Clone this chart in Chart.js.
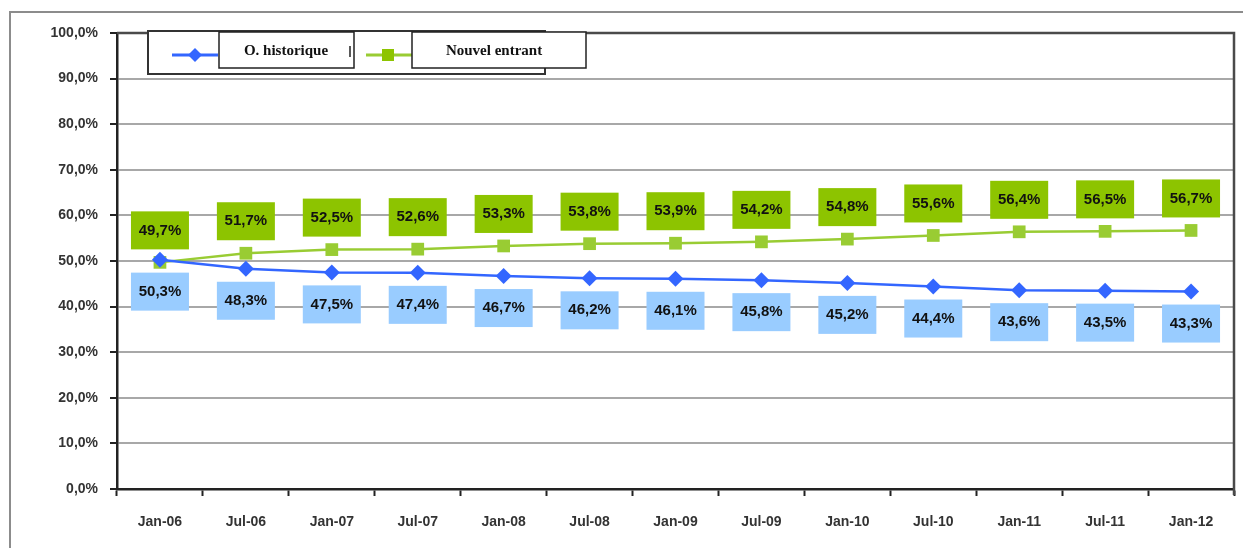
<!DOCTYPE html>
<html>
<head>
<meta charset="utf-8">
<script src="https://cdn.jsdelivr.net/npm/chart.js@4"></script>
<style>
  body { margin: 0; background: #fff; }
  canvas { display: block; }
</style>
</head>
<body>
<canvas id="myChart" width="1243" height="548"></canvas>
<script>
var months = ['Jan-06', 'Jul-06', 'Jan-07', 'Jul-07', 'Jan-08', 'Jul-08', 'Jan-09',
              'Jul-09', 'Jan-10', 'Jul-10', 'Jan-11', 'Jul-11', 'Jan-12'];
var historique = [50.3, 48.3, 47.5, 47.4, 46.7, 46.2, 46.1, 45.8, 45.2, 44.4, 43.6, 43.5, 43.3];
var nouvel = [49.7, 51.7, 52.5, 52.6, 53.3, 53.8, 53.9, 54.2, 54.8, 55.6, 56.4, 56.5, 56.7];
var seriesNames = ['O. historique', 'Nouvel entrant'];

var blue = '#3366ff';
var green = '#99cc33';

function pct(v) {
  return v.toFixed(1).replace('.', ',') + '%';
}

// outer frame, plot border, value boxes and legend
var decor = {
  id: 'decor',
  beforeDraw: function(chart) {
    var ctx = chart.ctx;
    ctx.save();
    ctx.fillStyle = '#fff';
    ctx.fillRect(0, 0, chart.width, chart.height);
    ctx.strokeStyle = '#8c8c8c';
    ctx.lineWidth = 2;
    ctx.beginPath();
    ctx.moveTo(10, chart.height);
    ctx.lineTo(10, 12);
    ctx.lineTo(chart.width, 12);
    ctx.stroke();
    ctx.restore();
  },
  beforeDatasetsDraw: function(chart) {
    var ctx = chart.ctx;
    var a = chart.chartArea;
    ctx.save();
    ctx.strokeStyle = '#4a4a4a';
    ctx.lineWidth = 2.5;
    ctx.beginPath();
    ctx.moveTo(a.left, a.top);
    ctx.lineTo(a.right, a.top);
    ctx.lineTo(a.right, a.bottom + 6);
    ctx.stroke();
    ctx.restore();
  },
  afterDatasetsDraw: function(chart) {
    var ctx = chart.ctx;
    ctx.save();
    ctx.font = 'bold 15px "Liberation Sans", Arial, sans-serif';
    ctx.textAlign = 'center';
    ctx.textBaseline = 'middle';
    chart.data.datasets.forEach(function(ds, i) {
      var meta = chart.getDatasetMeta(i);
      var off = i === 0 ? 32 : -32;
      var bg = i === 0 ? '#99ccff' : '#8dc400';
      meta.data.forEach(function(pt, j) {
        var cy = pt.y + off;
        ctx.fillStyle = bg;
        ctx.fillRect(pt.x - 29, cy - 19, 58, 38);
        ctx.fillStyle = '#111';
        ctx.fillText(pct(ds.data[j]), pt.x, cy);
      });
    });
    ctx.restore();
  },
  afterDraw: function(chart) {
    var ctx = chart.ctx;
    ctx.save();
    // legend frame
    ctx.fillStyle = '#fff';
    ctx.fillRect(148, 31, 397, 43);
    ctx.strokeStyle = '#333';
    ctx.lineWidth = 2;
    ctx.strokeRect(148, 31, 397, 43);
    // markers
    ctx.lineWidth = 3;
    ctx.strokeStyle = blue;
    ctx.beginPath();
    ctx.moveTo(172, 55);
    ctx.lineTo(218, 55);
    ctx.stroke();
    ctx.fillStyle = blue;
    ctx.beginPath();
    ctx.moveTo(195, 48);
    ctx.lineTo(202, 55);
    ctx.lineTo(195, 62);
    ctx.lineTo(188, 55);
    ctx.closePath();
    ctx.fill();
    ctx.strokeStyle = green;
    ctx.beginPath();
    ctx.moveTo(366, 55);
    ctx.lineTo(412, 55);
    ctx.stroke();
    ctx.fillStyle = '#8dc400';
    ctx.fillRect(382, 49, 12, 12);
    // text boxes
    ctx.fillStyle = '#fff';
    ctx.fillRect(219, 32, 135, 36);
    ctx.fillRect(412, 32, 174, 36);
    ctx.strokeStyle = '#222';
    ctx.lineWidth = 1.5;
    ctx.strokeRect(219, 32, 135, 36);
    ctx.strokeRect(412, 32, 174, 36);
    ctx.beginPath();
    ctx.moveTo(350, 46);
    ctx.lineTo(350, 57);
    ctx.stroke();
    ctx.fillStyle = '#111';
    ctx.font = 'bold 15px "Liberation Serif", "Times New Roman", serif';
    ctx.textAlign = 'center';
    ctx.textBaseline = 'middle';
    ctx.fillText(seriesNames[0], 286, 51);
    ctx.fillText(seriesNames[1], 494, 51);
    ctx.restore();
  }
};

var ctx = document.getElementById('myChart');

var lineGraph = new Chart(ctx, {
  type: 'line',
  data: {
    labels: months,
    datasets: [
      {
        label: seriesNames[0],
        data: historique,
        borderColor: blue,
        backgroundColor: blue,
        borderWidth: 2.5,
        pointStyle: 'rectRot',
        pointRadius: 8,
        pointBorderWidth: 0,
        tension: 0
      },
      {
        label: seriesNames[1],
        data: nouvel,
        borderColor: green,
        backgroundColor: '#99cc33',
        borderWidth: 2.5,
        pointStyle: 'rect',
        pointRadius: 9,
        pointBorderWidth: 0,
        tension: 0
      }
    ]
  },
  options: {
    responsive: false,
    animation: false,
    layout: { padding: { left: 0, top: 33, right: 9, bottom: 0 } },
    plugins: {
      legend: { display: false },
      tooltip: { enabled: false }
    },
    scales: {
      x: {
        offset: true,
        afterFit: function(scale) { scale.height = 59; },
        grid: {
          offset: true,
          drawOnChartArea: false,
          drawTicks: true,
          tickLength: 7,
          tickColor: '#222',
          tickWidth: 2
        },
        border: { color: '#222', width: 2.5 },
        ticks: {
          color: '#333',
          padding: 18,
          maxRotation: 0,
          autoSkip: false,
          font: { family: '"Liberation Sans", Arial, sans-serif', size: 14, weight: 'bold' }
        }
      },
      y: {
        min: 0,
        max: 100,
        afterFit: function(scale) { scale.width = 117; },
        grid: {
          color: '#a8a8a8',
          lineWidth: 2,
          tickLength: 7,
          tickColor: '#222',
          tickWidth: 2
        },
        border: { color: '#222', width: 2.5 },
        ticks: {
          stepSize: 10,
          color: '#333',
          padding: 12,
          font: { family: '"Liberation Sans", Arial, sans-serif', size: 14, weight: 'bold' },
          callback: function(v) { return pct(v); }
        }
      }
    }
  },
  plugins: [decor]
});
</script>
</body>
</html>
